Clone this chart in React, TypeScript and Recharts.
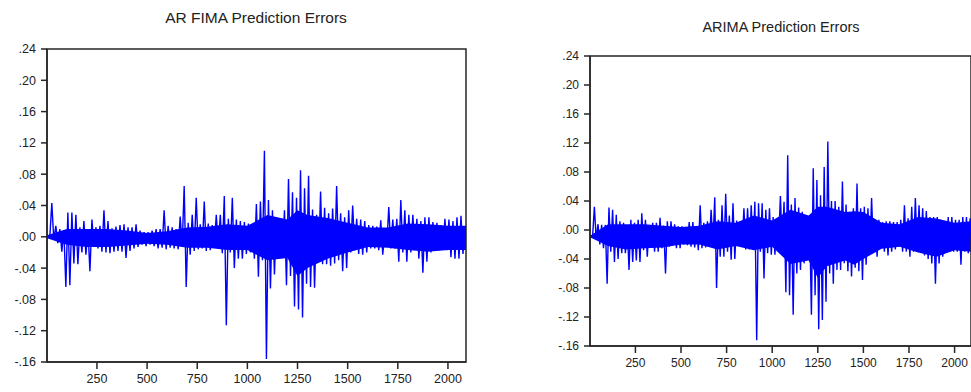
import React from "react";
import {
  ComposedChart,
  Line,
  Area,
  XAxis,
  YAxis,
  ReferenceArea,
} from "recharts";

// each bin covers 20 observations; hi = highest value in it, lo = lowest
const BIN_WIDTH = 20;

const ARFIMA_HI = [
  0, 0.043, 0.014, 0.01, 0.008, 0.031, 0.031, 0.028, 0.012, 0.02,
  0.01, 0.022, 0.012, 0.014, 0.034, 0.02, 0.011, 0.013, 0.015, 0.016,
  0.012, 0.012, 0.016, 0.008, 0.006, 0.006, 0.008, 0.01, 0.01, 0.034,
  0.014, 0.012, 0.01, 0.026, 0.065, 0.018, 0.028, 0.05, 0.016, 0.045,
  0.017, 0.015, 0.028, 0.028, 0.052, 0.023, 0.05, 0.022, 0.02, 0.019,
  0.017, 0.014, 0.042, 0.045, 0.11, 0.047, 0.034, 0.025, 0.022, 0.034,
  0.074, 0.057, 0.05, 0.085, 0.062, 0.078, 0.035, 0.028, 0.058, 0.037,
  0.03, 0.036, 0.065, 0.03, 0.025, 0.034, 0.04, 0.023, 0.022, 0.02,
  0.015, 0.014, 0.013, 0.021, 0.007, 0.038, 0.022, 0.023, 0.047, 0.034,
  0.028, 0.028, 0.023, 0.02, 0.025, 0.025, 0.019, 0.018, 0.015, 0.023,
  0.022, 0.02, 0.025, 0.027, 0.012,
];
const ARFIMA_LO = [
  0, -0.004, -0.008, -0.019, -0.064, -0.062, -0.034, -0.035, -0.02, -0.023,
  -0.044, -0.012, -0.015, -0.019, -0.02, -0.021, -0.019, -0.018, -0.019, -0.027,
  -0.018, -0.015, -0.013, -0.01, -0.012, -0.01, -0.012, -0.015, -0.014, -0.016,
  -0.014, -0.015, -0.016, -0.012, -0.064, -0.023, -0.018, -0.016, -0.015, -0.018,
  -0.017, -0.013, -0.014, -0.021, -0.113, -0.02, -0.04, -0.028, -0.028, -0.022,
  -0.02, -0.028, -0.051, -0.03, -0.156, -0.066, -0.048, -0.028, -0.02, -0.062,
  -0.05, -0.089, -0.093, -0.103, -0.06, -0.064, -0.065, -0.03, -0.035, -0.035,
  -0.037, -0.034, -0.03, -0.044, -0.04, -0.02, -0.017, -0.022, -0.023, -0.02,
  -0.015, -0.015, -0.017, -0.023, -0.011, -0.015, -0.015, -0.032, -0.02, -0.032,
  -0.02, -0.016, -0.028, -0.046, -0.032, -0.02, -0.017, -0.017, -0.015, -0.017,
  -0.026, -0.028, -0.028, -0.022, -0.02,
];

// the dense core of the band (where the trace is solid)
const ARFIMA_CORE_T = [
  1, 100, 200, 300, 400, 500, 600, 700, 800, 900, 1000, 1100, 1200, 1250,
  1300, 1400, 1500, 1600, 1700, 1800, 1900, 2000, 2090,
];
const ARFIMA_CORE_HI = [
  0.002, 0.01, 0.01, 0.01, 0.008, 0.005, 0.007, 0.012, 0.013, 0.016, 0.014,
  0.028, 0.022, 0.034, 0.028, 0.024, 0.018, 0.012, 0.012, 0.017, 0.016, 0.014,
  0.014,
];
const ARFIMA_CORE_LO = [
  -0.002, -0.01, -0.013, -0.013, -0.011, -0.009, -0.01, -0.014, -0.014, -0.017,
  -0.017, -0.03, -0.027, -0.05, -0.04, -0.028, -0.02, -0.013, -0.014, -0.017,
  -0.019, -0.017, -0.017,
];

const ARIMA_HI = [
  -0.009, 0.032, 0.008, 0.007, 0.007, 0.031, 0.028, 0.021, 0.012, 0.01,
  0.006, 0.014, 0.01, 0.014, 0.023, 0.014, 0.006, 0.01, 0.01, 0.017,
  0.006, 0.012, 0.012, 0.008, 0.005, 0.005, 0.004, 0.011, 0.011, 0.005,
  0.034, 0.01, 0.012, 0.028, 0.045, 0.014, 0.034, 0.05, 0.02, 0.037,
  0.013, 0.008, 0.03, 0.03, 0.034, 0.039, 0.037, 0.037, 0.028, 0.03,
  0.018, 0.016, 0.047, 0.039, 0.103, 0.035, 0.044, 0.031, 0.025, 0.018,
  0.016, 0.085, 0.069, 0.048, 0.087, 0.122, 0.04, 0.04, 0.032, 0.067,
  0.035, 0.023, 0.03, 0.064, 0.03, 0.032, 0.03, 0.044, 0.014, 0.014,
  0.011, 0.012, 0.012, 0.011, 0.011, 0.014, 0.034, 0.016, 0.032, 0.044,
  0.034, 0.03, 0.026, 0.018, 0.018, 0.018, 0.014, 0.005, 0.018, 0.018,
  0.014, 0.014, 0.018, 0.018, 0.016,
];
const ARIMA_LO = [
  -0.01, -0.012, -0.02, -0.025, -0.074, -0.03, -0.044, -0.04, -0.032, -0.032,
  -0.055, -0.044, -0.042, -0.044, -0.028, -0.037, -0.023, -0.03, -0.03, -0.025,
  -0.06, -0.023, -0.02, -0.025, -0.025, -0.02, -0.021, -0.023, -0.024, -0.028,
  -0.025, -0.024, -0.02, -0.02, -0.08, -0.037, -0.037, -0.03, -0.041, -0.04,
  -0.02, -0.02, -0.027, -0.027, -0.027, -0.152, -0.03, -0.067, -0.032, -0.034,
  -0.034, -0.016, -0.02, -0.086, -0.09, -0.117, -0.06, -0.055, -0.046, -0.037,
  -0.117, -0.09, -0.137, -0.124, -0.099, -0.06, -0.074, -0.055, -0.055, -0.046,
  -0.057, -0.064, -0.052, -0.057, -0.069, -0.048, -0.032, -0.028, -0.037, -0.025,
  -0.03, -0.035, -0.03, -0.027, -0.023, -0.03, -0.03, -0.037, -0.03, -0.03,
  -0.028, -0.035, -0.04, -0.046, -0.074, -0.046, -0.037, -0.03, -0.03, -0.03,
  -0.03, -0.048, -0.03, -0.032, -0.03,
];

const ARIMA_CORE_T = [
  1, 100, 200, 300, 400, 500, 600, 700, 800, 900, 1000, 1100, 1200, 1250,
  1300, 1400, 1450, 1500, 1600, 1700, 1800, 1900, 2000, 2090,
];
const ARIMA_CORE_HI = [
  -0.008, 0.008, 0.008, 0.008, 0.006, 0.004, 0.006, 0.012, 0.01, 0.02, 0.013,
  0.028, 0.02, 0.032, 0.032, 0.025, 0.026, 0.025, 0.01, 0.008, 0.018, 0.016,
  0.01, 0.012,
];
const ARIMA_CORE_LO = [
  -0.01, -0.022, -0.027, -0.025, -0.024, -0.02, -0.02, -0.027, -0.022, -0.028,
  -0.023, -0.047, -0.042, -0.066, -0.05, -0.042, -0.048, -0.04, -0.026, -0.023,
  -0.031, -0.037, -0.028, -0.03,
];

const X_TICKS = [250, 500, 750, 1000, 1250, 1500, 1750, 2000];
const Y_TICKS = [-0.16, -0.12, -0.08, -0.04, 0, 0.04, 0.08, 0.12, 0.16, 0.2, 0.24];
const X_DOMAIN: [number, number] = [1, 2090];
const Y_DOMAIN: [number, number] = [-0.16, 0.24];

type Pt = { t: number; v: number };
type Band = { t: number; lo: number; hi: number };

// zig-zag through each bin's top and bottom: gives the thin spikes
const toZigzag = (hi: number[], lo: number[]) => {
  const out: Pt[] = [];
  hi.forEach((h, i) => {
    const start = i * BIN_WIDTH;
    out.push({ t: Math.max(1, start + 5), v: h });
    out.push({ t: start + 15, v: lo[i] });
  });
  return out;
};

const toCore = (t: number[], hi: number[], lo: number[]): Band[] =>
  t.map((x, i) => ({ t: x, hi: hi[i], lo: lo[i] }));

const fmtY = (v: number) => v.toFixed(2).replace("0.", ".");

const FONT = "'Liberation Sans', Arial, sans-serif";
const AXIS = "#262626";
const BLUE = "#0000ff";

interface PanelProps {
  core: Band[];
  zigzag: Pt[];
  width: number;
  height: number;
  margin: { top: number; right: number; bottom: number; left: number };
  fontSize: number;
}

const Panel: React.FC<PanelProps> = ({ core, zigzag, width, height, margin, fontSize }) => (
  <ComposedChart width={width} height={height} data={core} margin={margin}>
    <XAxis
      dataKey="t"
      type="number"
      domain={X_DOMAIN}
      ticks={X_TICKS}
      allowDataOverflow
      height={30}
      tickSize={7}
      tickMargin={5}
      axisLine={{ stroke: AXIS, strokeWidth: 1.5 }}
      tickLine={{ stroke: AXIS, strokeWidth: 1.5 }}
      tick={{ fill: "#222", fontSize, fontFamily: FONT }}
    />
    <YAxis
      type="number"
      domain={Y_DOMAIN}
      ticks={Y_TICKS}
      allowDataOverflow
      width={40}
      tickSize={6}
      tickMargin={5}
      tickFormatter={fmtY}
      axisLine={{ stroke: AXIS, strokeWidth: 1.5 }}
      tickLine={{ stroke: AXIS, strokeWidth: 1.5 }}
      tick={{ fill: "#222", fontSize, fontFamily: FONT }}
    />
    <Area
      type="linear"
      dataKey={(d: Band) => [d.lo, d.hi]}
      stroke="none"
      fill={BLUE}
      fillOpacity={1}
      dot={false}
      activeDot={false}
      isAnimationActive={false}
    />
    <Line
      data={zigzag}
      type="linear"
      dataKey="v"
      stroke={BLUE}
      strokeWidth={1.4}
      dot={false}
      activeDot={false}
      isAnimationActive={false}
    />
    <ReferenceArea
      x1={X_DOMAIN[0]}
      x2={X_DOMAIN[1]}
      y1={Y_DOMAIN[0]}
      y2={Y_DOMAIN[1]}
      fill="none"
      fillOpacity={0}
      stroke={AXIS}
      strokeWidth={1.5}
      ifOverflow="visible"
    />
  </ComposedChart>
);

const titleStyle: React.CSSProperties = {
  position: "absolute",
  fontFamily: FONT,
  color: "#222",
  textAlign: "center",
  whiteSpace: "nowrap",
};

export default function App() {
  const arfimaCore = toCore(ARFIMA_CORE_T, ARFIMA_CORE_HI, ARFIMA_CORE_LO);
  const arfimaZig = toZigzag(ARFIMA_HI, ARFIMA_LO);
  const arimaCore = toCore(ARIMA_CORE_T, ARIMA_CORE_HI, ARIMA_CORE_LO);
  const arimaZig = toZigzag(ARIMA_HI, ARIMA_LO);

  return (
    <div
      style={{
        position: "absolute",
        left: 0,
        top: 0,
        width: 971,
        height: 392,
        overflow: "hidden",
        background: "#fff",
      }}
    >
      {/* ARFIMA panel */}
      <div style={{ ...titleStyle, left: 56, width: 400, top: 9, fontSize: 15.5 }}>
        AR FIMA Prediction Errors
      </div>
      <div style={{ position: "absolute", left: 0, top: 0 }}>
        <Panel
          core={arfimaCore}
          zigzag={arfimaZig}
          width={480}
          height={392}
          margin={{ top: 49, right: 14, bottom: 0, left: 7 }}
          fontSize={12.5}
        />
      </div>

      {/* ARIMA panel */}
      <div style={{ ...titleStyle, left: 581, width: 400, top: 19, fontSize: 14.5 }}>
        ARIMA Prediction Errors
      </div>
      <div style={{ position: "absolute", left: 545, top: 0 }}>
        <Panel
          core={arimaCore}
          zigzag={arimaZig}
          width={430}
          height={392}
          margin={{ top: 56, right: 4, bottom: 16, left: 5 }}
          fontSize={12}
        />
      </div>
    </div>
  );
}
